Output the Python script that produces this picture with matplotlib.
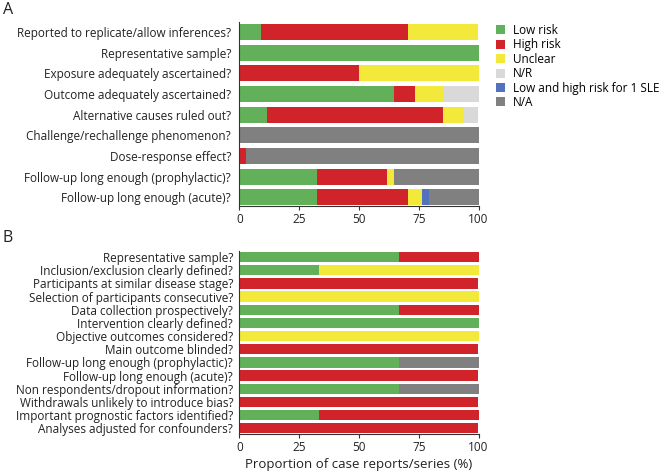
import matplotlib
matplotlib.use("Agg")
import matplotlib.pyplot as plt
import numpy as np

plt.rcParams['font.family'] = ['Open Sans', 'DejaVu Sans']

categories = ["Low risk", "High risk", "Unclear", "N/R", "Low and high risk for 1 SLE", "N/A"]
colors = ["#62b15a", "#d0232a", "#f2e93a", "#d9d9d9", "#5273bb", "#808080"]

questions_a = [
    "Reported to replicate/allow inferences?",
    "Representative sample?",
    "Exposure adequately ascertained?",
    "Outcome adequately ascertained?",
    "Alternative causes ruled out?",
    "Challenge/rechallenge phenomenon?",
    "Dose-response effect?",
    "Follow-up long enough (prophylactic)?",
    "Follow-up long enough (acute)?",
]
values_a = {
    "Low risk":  [9, 100, 0, 64.7, 11.5, 0, 0, 32.3, 32.3],
    "High risk": [61.4, 0, 50, 8.8, 73.6, 0, 2.7, 29.4, 38.2],
    "Unclear":   [29.6, 0, 50, 11.8, 8.8, 0, 0, 2.9, 5.9],
    "N/R":       [0, 0, 0, 14.7, 6.1, 0, 0, 0, 0],
    "Low and high risk for 1 SLE": [0, 0, 0, 0, 0, 0, 0, 0, 2.9],
    "N/A":       [0, 0, 0, 0, 0, 100, 97.3, 35.4, 20.7],
}

questions_b = [
    "Representative sample?",
    "Inclusion/exclusion clearly defined?",
    "Participants at similar disease stage?",
    "Selection of participants consecutive?",
    "Data collection prospectively?",
    "Intervention clearly defined?",
    "Objective outcomes considered?",
    "Main outcome blinded?",
    "Follow-up long enough (prophylactic)?",
    "Follow-up long enough (acute)?",
    "Non respondents/dropout information?",
    "Withdrawals unlikely to introduce bias?",
    "Important prognostic factors identified?",
    "Analyses adjusted for confounders?",
]
values_b = {
    "Low risk":  [66.7, 33.3, 0, 0, 66.7, 100, 0, 0, 66.7, 0, 66.7, 0, 33.3, 0],
    "High risk": [33.3, 0, 100, 0, 33.3, 0, 0, 100, 0, 100, 0, 100, 66.7, 100],
    "Unclear":   [0, 66.7, 0, 100, 0, 0, 100, 0, 0, 0, 0, 0, 0, 0],
    "N/R":       [0] * 14,
    "Low and high risk for 1 SLE": [0] * 14,
    "N/A":       [0, 0, 0, 0, 0, 0, 0, 0, 33.3, 0, 33.3, 0, 0, 0],
}

xticks = [0, 25, 50, 75, 100]
xlabel = "Proportion of case reports/series (%)"

FS = 8.5
TXT = '#222222'

fig = plt.figure(figsize=(6.6, 4.76), dpi=100)
W, H = 660, 476

def make_ax(left, top, right, bottom):
    return fig.add_axes([left / W, 1 - bottom / H, (right - left) / W, (bottom - top) / H])

axA = make_ax(239.5, 22, 478.5, 206)
axB = make_ax(239.5, 251, 478.5, 434.3)

def draw(ax, questions, values, height, ylim, pad):
    y = np.arange(len(questions))
    left = np.zeros(len(questions))
    handles = []
    for cat, col in zip(categories, colors):
        v = np.array(values[cat], dtype=float)
        h = ax.barh(y, v, left=left, height=height, color=col, edgecolor='none', label=cat)
        handles.append(h)
        left += v
    ax.set_yticks(y)
    ax.set_yticklabels(questions, fontsize=FS, color=TXT)
    ax.set_ylim(*ylim)
    ax.set_xlim(0, 100)
    ax.set_xticks(xticks)
    ax.set_xticklabels([str(t) for t in xticks], fontsize=FS, color=TXT)
    for s in ['top', 'right']:
        ax.spines[s].set_visible(False)
    for s in ['left', 'bottom']:
        ax.spines[s].set_color('#333333')
        ax.spines[s].set_linewidth(0.8)
    ax.tick_params(axis='y', length=0, pad=pad)
    ax.tick_params(axis='x', length=3, width=0.8, color='#333333', pad=2)
    return handles

handles = draw(axA, questions_a, values_a, 0.77, (8.42, -0.48), 6)
draw(axB, questions_b, values_b, 0.78, (13.46, -0.46), 4.5)
axB.set_xlabel(xlabel, fontsize=9.5, color=TXT, labelpad=3)

fig.text(3 / W, 1 - 10 / H, "A", fontsize=11.5, va='center', ha='left', color=TXT)
fig.text(3 / W, 1 - 238.5 / H, "B", fontsize=11.5, va='center', ha='left', color=TXT)

fig.legend(handles, categories, loc='upper left', bbox_to_anchor=(496 / W, 1 - 24 / H),
           frameon=False, fontsize=FS, handlelength=0.8, handleheight=0.8,
           handletextpad=0.6, labelspacing=0.12, borderaxespad=0, borderpad=0)

fig.savefig("out.png", dpi=100)
